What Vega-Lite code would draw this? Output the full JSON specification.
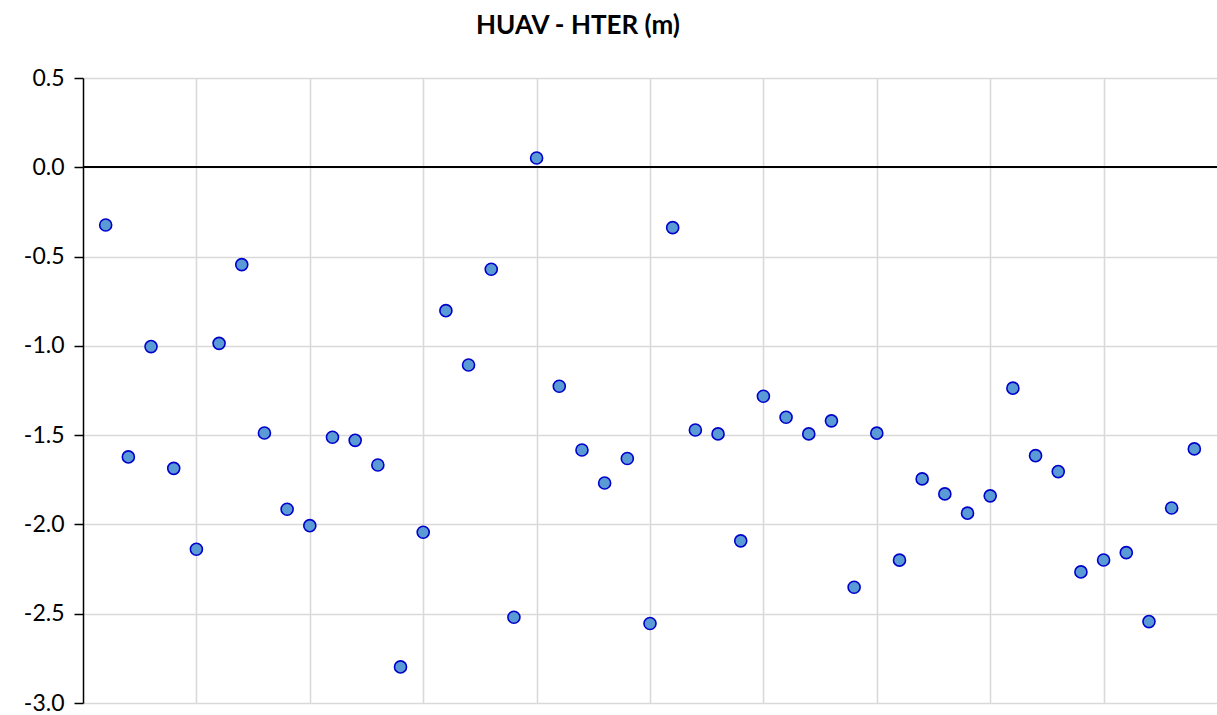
{
  "$schema": "https://vega.github.io/schema/vega-lite/v6.json",
  "autosize": {"type": "none"},
  "padding": {"left": 83, "top": 78, "right": 0, "bottom": 12},
  "width": 1134,
  "height": 625,
  "background": "white",
  "config": {"view": {"stroke": null}, "font": "Lato"},
  "title": {
    "text": "HUAV - HTER  (m)",
    "fontSize": 26,
    "fontWeight": "bold",
    "font": "Lato",
    "color": "#000000",
    "anchor": "middle",
    "offset": 28,
    "dx": -72
  },
  "data": {
    "values": [
      {"i": 1, "d": -0.323}, {"i": 2, "d": -1.622}, {"i": 3, "d": -1.004}, {"i": 4, "d": -1.686},
      {"i": 5, "d": -2.139}, {"i": 6, "d": -0.986}, {"i": 7, "d": -0.545}, {"i": 8, "d": -1.488},
      {"i": 9, "d": -1.915}, {"i": 10, "d": -2.007}, {"i": 11, "d": -1.512}, {"i": 12, "d": -1.529},
      {"i": 13, "d": -1.667}, {"i": 14, "d": -2.798}, {"i": 15, "d": -2.044}, {"i": 16, "d": -0.803},
      {"i": 17, "d": -1.107}, {"i": 18, "d": -0.571}, {"i": 19, "d": -2.52}, {"i": 20, "d": 0.052},
      {"i": 21, "d": -1.226}, {"i": 22, "d": -1.583}, {"i": 23, "d": -1.768}, {"i": 24, "d": -1.631},
      {"i": 25, "d": -2.555}, {"i": 26, "d": -0.338}, {"i": 27, "d": -1.471}, {"i": 28, "d": -1.493},
      {"i": 29, "d": -2.092}, {"i": 30, "d": -1.282}, {"i": 31, "d": -1.4}, {"i": 32, "d": -1.493},
      {"i": 33, "d": -1.42}, {"i": 34, "d": -2.352}, {"i": 35, "d": -1.489}, {"i": 36, "d": -2.2},
      {"i": 37, "d": -1.745}, {"i": 38, "d": -1.829}, {"i": 39, "d": -1.937}, {"i": 40, "d": -1.84},
      {"i": 41, "d": -1.237}, {"i": 42, "d": -1.615}, {"i": 43, "d": -1.704}, {"i": 44, "d": -2.266},
      {"i": 45, "d": -2.199}, {"i": 46, "d": -2.158}, {"i": 47, "d": -2.544}, {"i": 48, "d": -1.908},
      {"i": 49, "d": -1.577}
    ]
  },
  "layer": [
    {
      "mark": {"type": "rule", "color": "#000000", "strokeWidth": 1.6},
      "encoding": {"y": {"datum": 0, "type": "quantitative", "scale": {"domain": [-3, 0.5]}}}
    },
    {
      "mark": {"type": "point", "shape": "circle", "filled": false, "fill": "#5B9BD5", "fillOpacity": 1, "stroke": "#0000CC", "strokeWidth": 1.6, "opacity": 1, "size": 145},
      "encoding": {
        "x": {
          "field": "i", "type": "quantitative",
          "scale": {"domain": [0, 50], "nice": false, "zero": false},
          "axis": {"title": null, "labels": false, "ticks": false, "domain": false, "grid": true, "values": [5, 10, 15, 20, 25, 30, 35, 40, 45], "gridColor": "#D9D9D9", "gridWidth": 1.6}
        },
        "y": {
          "field": "d", "type": "quantitative",
          "scale": {"domain": [-3, 0.5], "nice": false, "zero": false},
          "axis": {
            "title": null,
            "values": [-3, -2.5, -2, -1.5, -1, -0.5, 0, 0.5],
            "labelExpr": "replace(format(datum.value, '.1f'), '\u2212', '-')",
            "grid": true, "gridColor": "#D9D9D9", "gridWidth": 1.6,
            "domain": true, "domainColor": "#000000", "domainWidth": 1.5,
            "ticks": true, "tickColor": "#000000", "tickSize": 9, "tickWidth": 1.5,
            "labelFontSize": 23, "labelFont": "Lato", "labelColor": "#000000", "labelPadding": 10
          }
        }
      }
    }
  ]
}
